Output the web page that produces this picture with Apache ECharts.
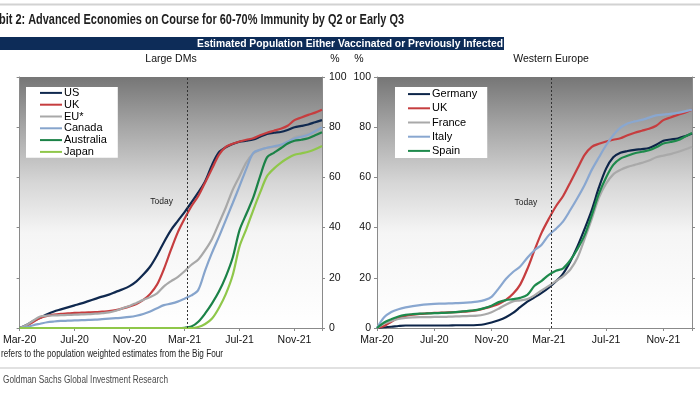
<!DOCTYPE html>
<html>
<head>
<meta charset="utf-8">
<script src="https://cdn.jsdelivr.net/npm/echarts@6/dist/echarts.min.js"></script>
<style>
html,body{margin:0;padding:0;background:#fff;}
#c{width:700px;height:394px;}
</style>
</head>
<body>
<div id="c"></div>
<script>
// ---- data (x = months since Mar-2020) ----
const months = [0,0.5,1,1.5,2,2.5,3,3.5,4,4.5,5,5.5,6,6.5,7,7.5,8,8.5,9,9.5,10,10.5,11,11.5,12,12.5,13,13.5,14,14.5,15,15.5,16,16.5,17,17.5,18,18.5,19,19.5,20,20.5,21,21.5,22];
const tickLabels = ['Mar-20','Jul-20','Nov-20','Mar-21','Jul-21','Nov-21'];
const todayMonth = 12.2;

// Large DMs
const us = [0,1.2,2.8,4.1,5.5,6.6,7.4,8.2,9,9.8,10.7,11.6,12.5,13.3,14.4,15.4,16.7,18.6,21.3,24.5,29,34.2,38.9,42.6,46.2,50,54,58.5,65,70,72,73.3,74.2,74.6,75.1,76.2,77.3,77.8,78.1,78.9,80,80.5,81.1,82,82.8];
const uk = [0,0.8,2.5,4,4.8,5.3,5.6,5.8,6,6.1,6.2,6.3,6.5,6.7,7.1,7.8,8.6,9.6,11.2,13.6,17.3,23.5,31,38,43.5,48.5,52.6,58,63.5,69,72.2,73.4,74.3,75,75.6,76.8,77.8,78.6,79.4,80.6,82.8,83.9,84.9,85.8,87];
const eu = [0,1.2,3,4.6,4.9,5,5.1,5.2,5.3,5.4,5.5,5.7,5.9,6.2,6.9,7.9,8.8,10,11.2,12.3,13.8,16.6,18.6,20.3,22.6,25.2,27.3,31,35.5,41.7,48,55,60.5,66,69.5,71,71.8,72.2,72.6,74,76,76.8,77.6,78.8,80];
const canada = [0,0.4,1.1,1.7,2.3,2.6,2.8,2.9,3,3.1,3.2,3.3,3.5,3.7,3.9,4.1,4.4,4.9,5.6,6.6,7.9,9.1,9.7,10.5,11.7,13,15.2,23,30,36.3,43,49.7,56.5,63.5,69.8,71,71.8,72.4,73,74.2,75.5,76.2,77,78.4,80];
const australia = [0,0,0,0,0,0,0,0,0,0,0,0,0,0,0,0,0,0,0,0,0,0,0,0,0.1,0.6,2.5,5.8,9.8,14.5,20.5,28,39,45.5,52,60.5,68,69.8,71.6,73.5,74.6,75,75.6,76.8,78];
const japan = [0,0,0,0,0,0,0,0,0,0,0,0,0,0,0,0,0,0,0,0,0,0,0,0,0,0,0.4,1.6,3.8,8,13.5,21,32.5,39.5,47,54,60.5,63.5,65.8,67.6,69,69.6,70.2,71.2,72.5];

// Western Europe
const germany = [0,0.3,0.5,0.8,1,1,1,1,1,1,1,1.1,1.1,1.1,1.2,1.5,2.2,3.1,4.3,6,8.3,10.5,12.2,14,16.1,18.6,21.7,26.5,32.5,39.5,47,56,63.5,68,69.8,70.5,71,71.3,71.7,73,74.6,75.1,75.5,76.4,77.5];
const france = [0,1.8,2.8,3.6,4,4.2,4.3,4.3,4.4,4.4,4.5,4.6,4.7,4.8,4.9,5.4,6.3,7.7,9.3,10.6,11,11.5,13,15,16.8,18.7,20.6,23.3,28,35.5,43.5,52,57.5,61.2,63,64.2,65,65.8,66.7,68,68.7,69.3,70.1,71.1,72.2];
const italy = [0,4.3,6.4,7.5,8.2,8.7,9.1,9.4,9.6,9.7,9.8,9.9,10,10.2,10.5,11.1,12.4,15.8,19.5,22.3,24.5,28,31,33.2,37,39.5,42.5,47,51.8,57,63,68,72.8,76.8,79.8,81.5,82.3,82.9,83.8,84.7,85,85.3,85.7,86.3,87];
const spain = [0,2.2,3.5,4.6,5.2,5.5,5.7,5.8,5.9,6,6.1,6.3,6.6,6.9,7.2,7.9,8.9,10.3,11.1,11.5,12,13.2,16.8,18.8,21.2,22.8,23.8,27,31.5,37,45,53.5,60,65,67.5,68.6,69.6,70.2,70.8,72,73.5,74.1,74.8,76.2,77.7];

const colors = {
  US:'#10294f', UK:'#c63d3f', 'EU*':'#a8a8a8', Canada:'#86a4cc', Australia:'#1b8247', Japan:'#8fc74a',
  Germany:'#0d2549', France:'#a9a9a9', Italy:'#89a7d0', Spain:'#1e8a4c'
};

const FONT = '"Liberation Sans", Arial, sans-serif';
const chart = echarts.init(document.getElementById('c'), null, {renderer:'canvas'});

const measureCtx = document.createElement('canvas').getContext('2d');
function tw(text, font){ measureCtx.font = font; return measureCtx.measureText(text).width; }

function pairs(vals){ return months.map((m,i)=>[m, vals[i]]); }

const gradient = new echarts.graphic.LinearGradient(0,0,0,1,[
  {offset:0, color:'#767676'},
  {offset:0.2, color:'#a6a6a6'},
  {offset:0.42, color:'#d6d6d6'},
  {offset:0.62, color:'#f5f5f5'},
  {offset:1, color:'#ffffff'}
]);

function xAxis(gi){
  return {
    type:'value', gridIndex:gi, min:0, max:22, interval:4,
    axisLine:{show:true, lineStyle:{color:'#8a8a8a', width:1}},
    axisTick:{show:true, inside:false, length:3, lineStyle:{color:'#8a8a8a'}},
    axisLabel:{show:true, margin:7, color:'#111', fontSize:10.5, fontFamily:FONT,
      formatter:v=> (v % 4 === 0 && tickLabels[v/4]) ? tickLabels[v/4] : ''},
    splitLine:{show:false}
  };
}
function yAxis(gi, pos, showLabel, margin){
  return {
    type:'value', gridIndex:gi, position:pos, min:0, max:100, interval:20,
    axisLine:{show:true, lineStyle:{color:'#8a8a8a', width:1}},
    axisTick:{show:true, inside:false, length:3, lineStyle:{color:'#8a8a8a'}},
    axisLabel:{show:showLabel, margin:margin, color:'#111', fontSize:10.5, fontFamily:FONT},
    splitLine:{show:false}
  };
}

function line(name, vals, xi, yi, extra){
  return Object.assign({
    name, type:'line', xAxisIndex:xi, yAxisIndex:yi, data:pairs(vals),
    showSymbol:false, symbol:'none', smooth:0.3,
    lineStyle:{color:colors[name], width:2.2},
    itemStyle:{color:colors[name]},
    emphasis:{disabled:true}, silent:true
  }, extra||{});
}

function todayMarks(labelX, labelY){
  return {
    markLine:{silent:true, symbol:'none', animation:false,
      lineStyle:{color:'#333', type:[2,2], width:1},
      label:{show:false},
      data:[{xAxis:todayMonth}]},
    markPoint:{silent:true, animation:false, symbol:'rect', symbolSize:1,
      itemStyle:{color:'rgba(0,0,0,0)'},
      label:{show:true, position:'inside', formatter:'Today', color:'#222', fontSize:8.5, fontFamily:FONT},
      data:[{coord:[labelX, labelY]}]}
  };
}

// Text helpers with horizontal fit
const titleText = 'Exhibit 2: Advanced Economies on Course for 60-70% Immunity by Q2 or Early Q3';
const titleFont = 'bold 14px ' + FONT;
const tPre = tw('Exhi', titleFont), tFull = tw(titleText, titleFont);
const tScale = (404 - (-1)) / (tFull - tPre);
const titleX = -1 - tPre * tScale;

const bandText = 'Estimated Population Either Vaccinated or Previously Infected';
const bandFont = 'bold 11px ' + FONT;
const bScale = 306 / tw(bandText, bandFont);

const footText = 'refers to the population weighted estimates from the Big Four';
const footFont = '10px ' + FONT;
const fScale = 222 / tw(footText, footFont);

const srcText = 'Goldman Sachs Global Investment Research';
const srcFont = '10px ' + FONT;
const sScale = 165 / tw(srcText, srcFont);

const legendText = {fontSize:11, color:'#000', fontFamily:FONT, padding:[0,0,0,-3]};

const option = {
  animation:false,
  backgroundColor:'#ffffff',
  grid:[
    {left:9, right:378, top:77, bottom:66, show:true, backgroundColor:gradient, borderWidth:0},
    {left:377, right:8, top:77, bottom:66, show:true, backgroundColor:gradient, borderWidth:0}
  ],
  xAxis:[xAxis(0), xAxis(1)],
  yAxis:[
    yAxis(0,'left',false,4),
    yAxis(0,'right',true,7),
    yAxis(1,'left',true,6),
    yAxis(1,'right',false,4)
  ],
  legend:[
    {data:['US','UK','EU*','Canada','Australia','Japan'], orient:'vertical', left:26, top:87,
     backgroundColor:'#fff', padding:[0,11,0,14], itemGap:0, itemWidth:22, itemHeight:2, icon:'rect',
     selectedMode:false, textStyle:Object.assign({lineHeight:11.8}, legendText)},
    {data:['Germany','UK','France','Italy','Spain'], orient:'vertical', left:395, top:87,
     backgroundColor:'#fff', padding:[0,10,0,13], itemGap:0, itemWidth:22, itemHeight:2, icon:'rect',
     selectedMode:false, textStyle:Object.assign({lineHeight:14.2}, legendText)}
  ],
  series:[
    line('US', us, 0, 0, todayMarks(10.33, 50.2)),
    line('UK', uk, 0, 0),
    line('EU*', eu, 0, 0),
    line('Canada', canada, 0, 0),
    line('Australia', australia, 0, 0),
    line('Japan', japan, 0, 0),
    line('Germany', germany, 1, 2, todayMarks(10.4, 50)),
    line('UK', uk, 1, 2),
    line('France', france, 1, 2),
    line('Italy', italy, 1, 2),
    line('Spain', spain, 1, 2)
  ],
  graphic:[
    {type:'rect', shape:{x:0, y:3.5, width:700, height:2}, style:{fill:'#d2d2d2'}, silent:true},
    {type:'text', x:titleX, y:20, scaleX:tScale, silent:true,
     style:{text:titleText, font:titleFont, fill:'#1f1f1f', verticalAlign:'middle', textVerticalAlign:'middle'}},
    {type:'rect', shape:{x:0, y:37, width:504, height:13}, style:{fill:'#0d2c58'}, silent:true},
    {type:'text', x:197, y:44, scaleX:bScale, silent:true,
     style:{text:bandText, font:bandFont, fill:'#ffffff', verticalAlign:'middle', textVerticalAlign:'middle'}},
    {type:'text', x:171, y:59, silent:true,
     style:{text:'Large DMs', font:'10.5px '+FONT, fill:'#111', align:'center', textAlign:'center', verticalAlign:'middle', textVerticalAlign:'middle'}},
    {type:'text', x:335, y:59, silent:true,
     style:{text:'%', font:'10.5px '+FONT, fill:'#111', align:'center', textAlign:'center', verticalAlign:'middle', textVerticalAlign:'middle'}},
    {type:'text', x:359, y:59, silent:true,
     style:{text:'%', font:'10.5px '+FONT, fill:'#111', align:'center', textAlign:'center', verticalAlign:'middle', textVerticalAlign:'middle'}},
    {type:'text', x:551, y:59, silent:true,
     style:{text:'Western Europe', font:'10.5px '+FONT, fill:'#111', align:'center', textAlign:'center', verticalAlign:'middle', textVerticalAlign:'middle'}},
    {type:'text', x:1, y:354, scaleX:fScale, silent:true,
     style:{text:footText, font:footFont, fill:'#222', verticalAlign:'middle', textVerticalAlign:'middle'}},
    {type:'rect', shape:{x:0, y:367.5, width:700, height:1}, style:{fill:'#c4c4c4'}, silent:true},
    {type:'text', x:3, y:380, scaleX:sScale, silent:true,
     style:{text:srcText, font:srcFont, fill:'#4a4a4a', verticalAlign:'middle', textVerticalAlign:'middle'}}
  ]
};
chart.setOption(option);
</script>
</body>
</html>
